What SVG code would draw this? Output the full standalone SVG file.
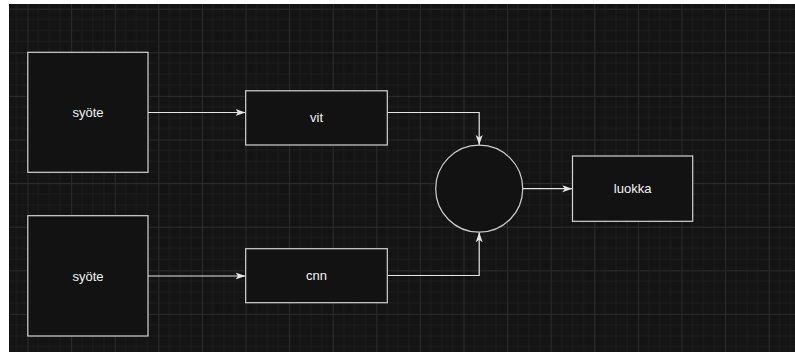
<svg xmlns="http://www.w3.org/2000/svg" width="795" height="352" viewBox="0 0 795 352">
  <style>
    .box { fill: #121212; stroke: #d4d4d4; stroke-width: 1.2; }
    .lbl { fill: #f2f2f2; font-family: "Liberation Sans", Arial, sans-serif; font-size: 13px; text-anchor: middle; dominant-baseline: central; }
    .edge { fill: none; stroke: #e6e6e6; stroke-width: 1.2; }
  </style>
  <defs>
    <pattern id="grid" patternUnits="userSpaceOnUse" x="27.5" y="8.7" width="43.6" height="43.6">
      <rect width="43.6" height="43.6" fill="#141414"/>
      <path d="M10.9,0V43.6M21.8,0V43.6M32.7,0V43.6M0,10.9H43.6M0,21.8H43.6M0,32.7H43.6" stroke="#1e1e1e" stroke-width="1"/>
      <path d="M0.5,0V43.6M0,0.5H43.6" stroke="#2c2c2c" stroke-width="1"/>
    </pattern>
    <marker id="arr" markerUnits="userSpaceOnUse" markerWidth="11" markerHeight="9" refX="10" refY="4" orient="auto">
      <path d="M0,0.5 L10,4 L0,7.5 L2.5,4 Z" fill="#e6e6e6"/>
    </marker>
  </defs>
  <rect width="795" height="352" fill="#ffffff"/>
  <rect x="9" y="4" width="786" height="348" fill="url(#grid)"/>

  <g id="connectors">
    <path class="edge" d="M148,112.5 H245.5" marker-end="url(#arr)"/>
    <path class="edge" d="M148,276 H245.5" marker-end="url(#arr)"/>
    <path class="edge" d="M387.3,112.5 H479.2 V145" marker-end="url(#arr)"/>
    <path class="edge" d="M387.3,275.5 H479.2 V232.3" marker-end="url(#arr)"/>
    <path class="edge" d="M522.7,188.7 H572.3" marker-end="url(#arr)"/>
  </g>

  <g id="syote1">
    <rect class="box" x="27.8" y="52.3" width="120.2" height="120"/>
    <text class="lbl" x="88" y="112">syöte</text>
  </g>
  <g id="syote2">
    <rect class="box" x="27.8" y="215.7" width="120.2" height="120.3"/>
    <text class="lbl" x="88" y="276">syöte</text>
  </g>
  <g id="vit">
    <rect class="box" x="245.7" y="90.8" width="141.6" height="54.2"/>
    <text class="lbl" x="316.5" y="117.5">vit</text>
  </g>
  <g id="cnn">
    <rect class="box" x="245.7" y="248.7" width="141.6" height="54"/>
    <text class="lbl" x="316.5" y="275.5">cnn</text>
  </g>
  <g id="combine">
    <circle cx="479.2" cy="188.7" r="43.5" fill="#121212" stroke="#cfcfcf" stroke-width="1.2"/>
  </g>
  <g id="luokka">
    <rect class="box" x="572.5" y="156" width="120.2" height="65.3"/>
    <text class="lbl" x="632.6" y="188.6">luokka</text>
  </g>
</svg>
